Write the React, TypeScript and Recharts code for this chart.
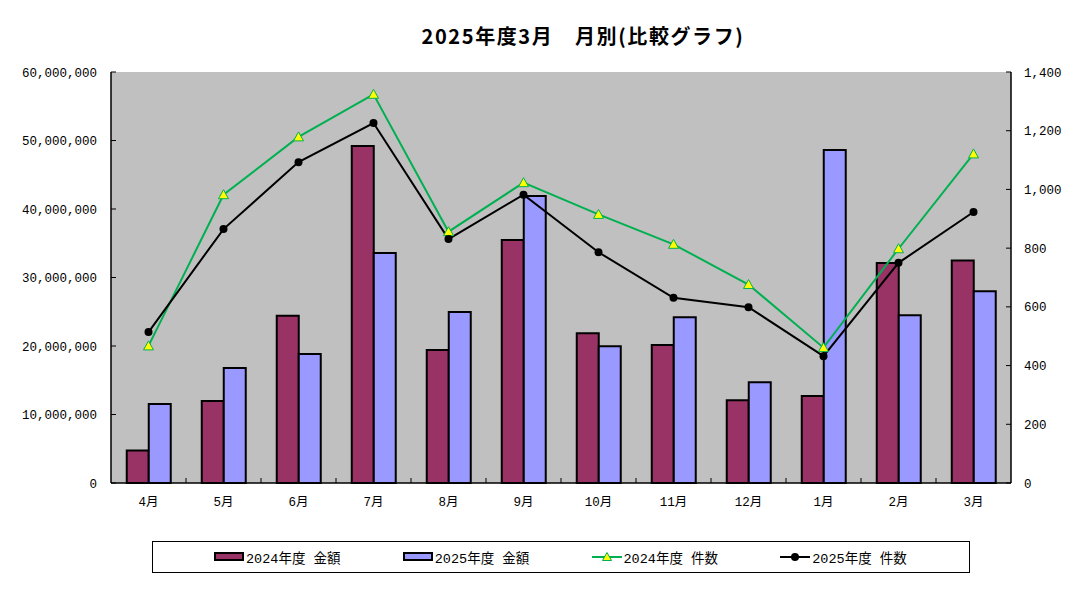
import React from 'react';
import { ComposedChart, Bar, Line, XAxis, YAxis, CartesianGrid } from 'recharts';

const months = ['4月', '5月', '6月', '7月', '8月', '9月', '10月', '11月', '12月', '1月', '2月', '3月'];
const amount2024 = [4730000, 11980000, 24400000, 49200000, 19430000, 35460000, 21870000, 20160000, 12080000, 12700000, 32100000, 32500000];
const amount2025 = [11540000, 16800000, 18850000, 33560000, 24980000, 41880000, 19970000, 24200000, 14700000, 48600000, 24500000, 28000000];
const count2024 = [467, 982, 1179, 1324, 856, 1023, 915, 813, 676, 461, 798, 1121];
const count2025 = [514, 865, 1093, 1226, 831, 982, 786, 631, 599, 432, 750, 923];
const leftTicks = [0, 10000000, 20000000, 30000000, 40000000, 50000000, 60000000];
const rightTicks = [0, 200, 400, 600, 800, 1000, 1200, 1400];

const data = months.map((month, i) => ({
  month,
  a2024: amount2024[i],
  a2025: amount2025[i],
  c2024: count2024[i],
  c2025: count2025[i],
}));

const W = 1071;
const H = 578;
const PLOT_W = 900;
const BAND = PLOT_W / months.length;
const FONT = '"Liberation Mono", "Noto Sans CJK JP", sans-serif';
const MAROON = '#993366';
const BLUE = '#9999FF';
const GREEN = '#00B050';

const fmt = (v: number) => v.toLocaleString('en-US');

function LeftTick(props: any) {
  const { x, y, payload } = props;
  return (
    <g>
      <line x1={x + 14} x2={x + 19} y1={y} y2={y} stroke="#000" />
      <text x={x} y={y} dy="0.36em" textAnchor="end" fontSize={12.5} fontFamily={FONT} fill="#000">
        {fmt(payload.value)}
      </text>
    </g>
  );
}

function RightTick(props: any) {
  const { x, y, payload } = props;
  return (
    <g>
      <line x1={x - 13} x2={x - 18} y1={y} y2={y} stroke="#000" />
      <text x={x} y={y} dy="0.36em" textAnchor="start" fontSize={12.5} fontFamily={FONT} fill="#000">
        {fmt(payload.value)}
      </text>
    </g>
  );
}

function MonthTick(props: any) {
  const { x, y, payload, index } = props;
  const axisY = y - 14;
  return (
    <g>
      {index < months.length - 1 && (
        <line x1={x + BAND / 2} x2={x + BAND / 2} y1={axisY} y2={axisY - 5} stroke="#000" />
      )}
      <text x={x} y={y} dy="0.71em" textAnchor="middle" fontSize={12.5} fontFamily={FONT} fill="#000">
        {payload.value}
      </text>
    </g>
  );
}

function Triangle(props: any) {
  const { cx, cy } = props;
  if (cx == null || cy == null) return null;
  return (
    <polygon
      points={`${cx},${cy - 5} ${cx - 5},${cy + 4} ${cx + 5},${cy + 4}`}
      fill="#FFFF00"
      stroke={GREEN}
      strokeWidth={1}
    />
  );
}

const legendItems = [
  { label: '2024年度 金額', kind: 'bar', color: MAROON },
  { label: '2025年度 金額', kind: 'bar', color: BLUE },
  { label: '2024年度 件数', kind: 'tri', color: GREEN },
  { label: '2025年度 件数', kind: 'dot', color: '#000' },
];

function LegendIcon({ kind, color }: { kind: string; color: string }) {
  if (kind === 'bar') {
    return (
      <svg width={30} height={10}>
        <rect x={1} y={1} width={28} height={7} fill={color} stroke="#000" strokeWidth={2} />
      </svg>
    );
  }
  return (
    <svg width={30} height={10}>
      <line x1={0} x2={30} y1={5} y2={5} stroke={color} strokeWidth={2} />
      {kind === 'tri' ? (
        <polygon points="15,0.5 10.5,8.5 19.5,8.5" fill="#FFFF00" stroke={GREEN} strokeWidth={1} />
      ) : (
        <circle cx={15} cy={5} r={4} fill="#000" />
      )}
    </svg>
  );
}

export default function App() {
  return (
    <div style={{ position: 'relative', width: W, height: H }}>
      <div
        style={{
          position: 'absolute',
          left: 375,
          top: 16,
          width: 400,
          textAlign: 'center',
          fontFamily: '"Noto Sans CJK JP", sans-serif',
          fontWeight: 'bold',
          fontSize: 20,
          lineHeight: '24px',
          letterSpacing: 1.6,
          color: '#000',
        }}
      >
        2025年度3月　月別(比較グラフ)
      </div>
      <ComposedChart
        width={W}
        height={H}
        data={data}
        margin={{ top: 64, right: 0, bottom: 73, left: 0 }}
        barCategoryGap="21%"
        barGap={0}
      >
        <CartesianGrid fill="#C0C0C0" horizontal={false} vertical={false} />
        <XAxis
          dataKey="month"
          xAxisId="bottom"
          height={30}
          interval={0}
          tickSize={0}
          tickMargin={14}
          axisLine={{ stroke: '#000', strokeWidth: 1.5 }}
          tick={<MonthTick />}
        />
        <XAxis
          dataKey="month"
          xAxisId="top"
          orientation="top"
          height={0}
          tick={false}
          tickLine={false}
          axisLine={{ stroke: '#808080', strokeWidth: 1.5 }}
        />
        <YAxis
          yAxisId="left"
          width={103}
          domain={[0, 60000000]}
          ticks={leftTicks}
          interval={0}
          tickSize={0}
          tickMargin={14}
          axisLine={{ stroke: '#000', strokeWidth: 1.5 }}
          tick={<LeftTick />}
        />
        <YAxis
          yAxisId="right"
          orientation="right"
          width={68}
          domain={[0, 1400]}
          ticks={rightTicks}
          interval={0}
          tickSize={0}
          tickMargin={13}
          axisLine={{ stroke: '#000', strokeWidth: 1.5 }}
          tick={<RightTick />}
        />
        <Bar xAxisId="bottom" yAxisId="left" dataKey="a2024" fill={MAROON} stroke="#000" strokeWidth={2} isAnimationActive={false} />
        <Bar xAxisId="bottom" yAxisId="left" dataKey="a2025" fill={BLUE} stroke="#000" strokeWidth={2} isAnimationActive={false} />
        <Line
          xAxisId="bottom"
          yAxisId="right"
          dataKey="c2024"
          stroke={GREEN}
          strokeWidth={2}
          dot={<Triangle />}
          activeDot={false}
          isAnimationActive={false}
        />
        <Line
          xAxisId="bottom"
          yAxisId="right"
          dataKey="c2025"
          stroke="#000"
          strokeWidth={2}
          dot={{ r: 4, fill: '#000', stroke: '#000', strokeWidth: 0 }}
          activeDot={false}
          isAnimationActive={false}
        />
      </ComposedChart>
      <div
        style={{
          position: 'absolute',
          left: 144,
          top: 533,
          width: 818,
          height: 32,
          border: '1px solid #000',
          boxSizing: 'border-box',
          display: 'flex',
          alignItems: 'center',
          paddingLeft: 61,
          fontFamily: FONT,
          fontSize: 13.5,
          color: '#000',
        }}
      >
        {legendItems.map((item) => (
          <div key={item.label} style={{ width: 191, display: 'flex', alignItems: 'center' }}>
            <LegendIcon kind={item.kind} color={item.color} />
            <span style={{ marginLeft: 2, whiteSpace: 'pre' }}>{item.label}</span>
          </div>
        ))}
      </div>
    </div>
  );
}
